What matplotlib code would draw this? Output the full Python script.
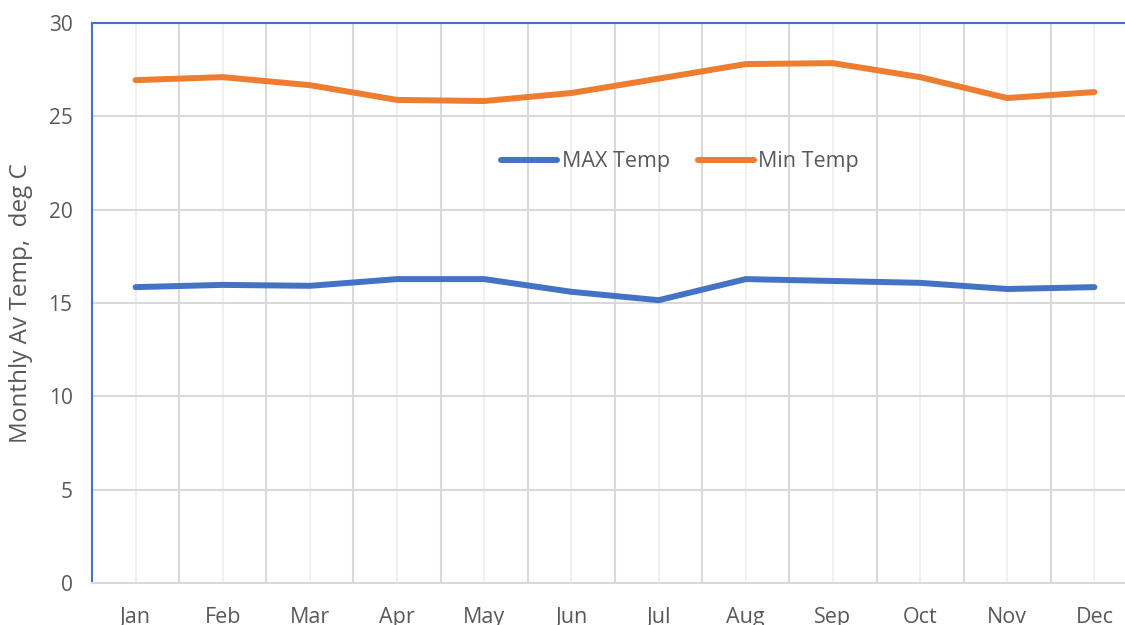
import matplotlib
matplotlib.use("Agg")
import matplotlib.pyplot as plt
import numpy as np

months = ["Jan", "Feb", "Mar", "Apr", "May", "Jun", "Jul", "Aug", "Sep", "Oct", "Nov", "Dec"]
max_temp = [15.85, 15.97, 15.92, 16.28, 16.28, 15.6, 15.15, 16.28, 16.18, 16.08, 15.75, 15.85]
min_temp = [26.94, 27.1, 26.67, 25.88, 25.82, 26.25, 27.02, 27.8, 27.85, 27.1, 25.98, 26.3]
yticks = [0, 5, 10, 15, 20, 25, 30]

plt.rcParams['font.family'] = ['Open Sans', 'DejaVu Sans']
W, H = 1125, 625
fig = plt.figure(figsize=(W / 100, H / 100), dpi=100)
left, right, top, bottom = 92, 1138, 23, 583
ax = fig.add_axes([left / W, 1 - bottom / H, (right - left) / W, (bottom - top) / H])

x = np.arange(len(months))
blue = "#4472C4"
orange = "#ED7D31"
ax.plot(x, max_temp, color=blue, lw=4.3, solid_capstyle='round', solid_joinstyle='round', label="MAX Temp", zorder=3)
ax.plot(x, min_temp, color=orange, lw=4.3, solid_capstyle='round', solid_joinstyle='round', label="Min Temp", zorder=3)

ax.set_xlim(-0.5, len(months) - 0.5)
ax.set_ylim(0, 30)
ax.set_yticks(yticks)
ax.set_xticks(x)
ax.set_xticklabels(months)
ax.set_xticks(np.arange(-0.5, len(months), 1.0), minor=True)

ax.grid(axis='y', which='major', color='#D9D9D9', lw=1.5, zorder=0)
ax.grid(axis='x', which='minor', color='#D9D9D9', lw=1.5, zorder=0)
ax.grid(axis='x', which='major', color='#F0F0F0', lw=1.5, zorder=0)

ax.tick_params(axis='both', which='both', length=0, labelcolor='#595959')
ax.tick_params(axis='x', labelsize=15.5, pad=17)
ax.tick_params(axis='y', labelsize=15, pad=14)

for s in ['left', 'top']:
    ax.spines[s].set_color(blue)
    ax.spines[s].set_linewidth(1.5)
ax.spines['right'].set_visible(False)
ax.spines['bottom'].set_color('#D9D9D9')
ax.spines['bottom'].set_linewidth(1.5)

ax.set_ylabel("Monthly Av Temp,  deg C", fontsize=17.5, color='#595959', labelpad=11)

leg = ax.legend(loc='center', bbox_to_anchor=((680 - left) / (right - left), (583 - 162) / (bottom - top)),
                ncol=2, frameon=False, fontsize=15.5, handlelength=2.6, handletextpad=0.2,
                columnspacing=1.3, labelcolor='#595959')

fig.savefig("out.png", dpi=100)
